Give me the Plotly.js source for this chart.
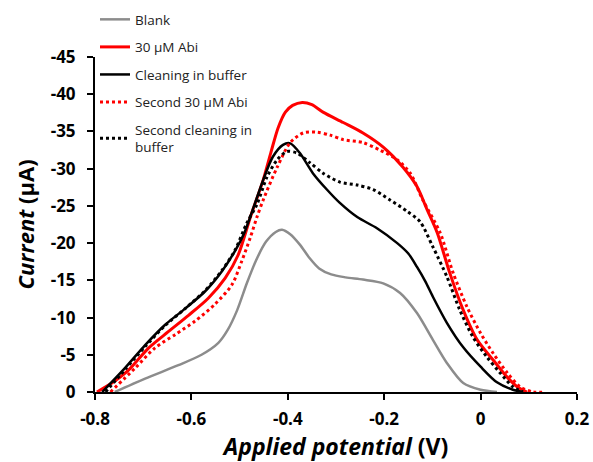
<!DOCTYPE html>
<html>
<head>
<meta charset="utf-8">
<script src="https://cdn.plot.ly/plotly-3.0.1.min.js"></script>
<style>html,body{margin:0;padding:0;background:#fff;}#chart{width:593px;height:462px;}</style>
</head>
<body>
<div id="chart"></div>
<script>
// Series names
const seriesNames = ["Blank", "30 µM Abi", "Cleaning in buffer", "Second 30 µM Abi", "Second cleaning in<br>buffer"];

// Blank
const blankX = [-0.759, -0.696, -0.627, -0.579, -0.544, -0.525, -0.505, -0.485, -0.465, -0.445, -0.425, -0.412, -0.395, -0.375, -0.355, -0.335, -0.310, -0.280, -0.244, -0.202, -0.167, -0.132, -0.099, -0.070, -0.036, 0.000, 0.034];
const blankY = [0, -1.8, -3.6, -5.0, -6.6, -8.3, -11.0, -14.6, -17.8, -20.2, -21.5, -21.8, -21.2, -19.8, -18.0, -16.6, -15.8, -15.4, -15.1, -14.6, -13.3, -10.6, -7.0, -3.9, -1.2, -0.3, 0];

// 30 µM Abi
const abiX = [-0.796, -0.765, -0.731, -0.689, -0.648, -0.606, -0.565, -0.530, -0.503, -0.478, -0.451, -0.435, -0.420, -0.405, -0.390, -0.370, -0.350, -0.327, -0.285, -0.244, -0.202, -0.161, -0.132, -0.111, -0.090, -0.064, -0.036, -0.007, 0.026, 0.055, 0.076, 0.096];
const abiY = [0, -1.2, -2.9, -5.9, -8.1, -10.3, -12.6, -15.3, -18.4, -23.4, -28.5, -32.2, -35.5, -37.6, -38.5, -38.9, -38.6, -37.6, -36.2, -34.8, -32.9, -30.2, -27.6, -24.5, -21.4, -16.0, -11.0, -7.0, -4.3, -2.0, -0.7, 0];

// Cleaning in buffer
const cleanX = [-0.785, -0.738, -0.696, -0.655, -0.613, -0.572, -0.537, -0.510, -0.490, -0.470, -0.451, -0.431, -0.410, -0.395, -0.375, -0.348, -0.319, -0.292, -0.256, -0.215, -0.173, -0.150, -0.132, -0.115, -0.099, -0.070, -0.036, 0.000, 0.034, 0.067, 0.088];
const cleanY = [0, -3.2, -6.3, -9.0, -11.2, -13.5, -16.2, -18.9, -21.4, -25.0, -28.5, -31.6, -33.2, -33.4, -32.1, -29.4, -27.2, -25.4, -23.5, -22.0, -20.0, -18.6, -16.8, -14.9, -12.8, -9.3, -6.0, -3.4, -1.3, -0.3, 0];

// Second 30 µM Abi
const abi2X = [-0.768, -0.717, -0.676, -0.634, -0.593, -0.551, -0.516, -0.496, -0.478, -0.464, -0.451, -0.422, -0.395, -0.368, -0.339, -0.312, -0.285, -0.244, -0.209, -0.173, -0.146, -0.120, -0.084, -0.057, -0.028, 0.000, 0.026, 0.055, 0.082, 0.109, 0.134];
const abi2Y = [0, -3.2, -5.9, -7.7, -9.5, -11.8, -14.4, -17.5, -20.7, -23.5, -25.8, -30.2, -33.5, -34.8, -34.9, -34.5, -33.9, -33.5, -32.5, -31.2, -29.4, -25.8, -21.4, -16.0, -11.4, -7.9, -5.2, -2.6, -0.7, 0, 0];

// Second cleaning in buffer
const clean2X = [-0.778, -0.738, -0.696, -0.655, -0.613, -0.572, -0.537, -0.510, -0.485, -0.464, -0.443, -0.422, -0.402, -0.381, -0.354, -0.327, -0.292, -0.256, -0.223, -0.188, -0.153, -0.126, -0.099, -0.070, -0.043, -0.016, 0.013, 0.040, 0.067, 0.088];
const clean2Y = [0, -3.0, -6.1, -8.9, -11.2, -13.6, -16.3, -19.0, -22.7, -25.2, -28.9, -31.2, -32.3, -32.1, -30.8, -29.4, -28.2, -27.8, -27.2, -25.8, -24.3, -22.9, -19.5, -15.5, -11.0, -7.4, -4.7, -2.6, -0.7, 0];

// Axis ticks
const xTickVals = [-0.8, -0.6, -0.4, -0.2, 0, 0.2];
const xTickText = ["-0.8", "-0.6", "-0.4", "-0.2", "0", "0.2"];
const yTickVals = [0, -5, -10, -15, -20, -25, -30, -35, -40, -45];
const yTickText = ["0", "-5", "-10", "-15", "-20", "-25", "-30", "-35", "-40", "-45"];

const FONT = "Open Sans, Noto Sans, sans-serif";

const traces = [
  {x: blankX, y: blankY, name: seriesNames[0], line: {color: "#8c8c8c", width: 2.5, shape: "spline", smoothing: 0.8}},
  {x: abiX, y: abiY, name: seriesNames[1], line: {color: "#ff0000", width: 3, shape: "spline", smoothing: 0.8}},
  {x: cleanX, y: cleanY, name: seriesNames[2], line: {color: "#000000", width: 2.5, shape: "spline", smoothing: 0.8}},
  {x: abi2X, y: abi2Y, name: seriesNames[3], line: {color: "#ff0000", width: 3, dash: "dot", shape: "spline", smoothing: 0.8}},
  {x: clean2X, y: clean2Y, name: seriesNames[4], line: {color: "#000000", width: 3, dash: "dot", shape: "spline", smoothing: 0.8}}
].map((t, i) => Object.assign({type: "scatter", mode: "lines", legendgroup: "g" + i, hoverinfo: "skip"}, t));

const layout = {
  width: 593, height: 462,
  margin: {l: 95, r: 16, t: 57, b: 70, autoexpand: false},
  paper_bgcolor: "#fff", plot_bgcolor: "#fff",
  font: {family: FONT, color: "#000"},
  showlegend: true,
  legend: {
    x: 0.0, y: 1.158, xanchor: "left", yanchor: "top",
    bgcolor: "rgba(0,0,0,0)",
    font: {family: FONT, size: 13.5, color: "#222"},
    tracegroupgap: 7,
    itemwidth: 30
  },
  xaxis: {
    range: [-0.8, 0.2], tickmode: "array", tickvals: xTickVals, ticktext: xTickText,
    showline: true, linecolor: "#000", linewidth: 2, mirror: false,
    ticks: "outside", ticklen: 6, tickwidth: 2, tickcolor: "#000",
    ticklabelstandoff: 5,
    showgrid: false, zeroline: false,
    tickfont: {family: FONT, size: 17, color: "#000", weight: "bold"},
    title: {text: "<b><i>Applied potential</i> (V)</b>", font: {family: FONT, size: 23, color: "#000"}, standoff: 2}
  },
  yaxis: {
    range: [0, -45], tickmode: "array", tickvals: yTickVals, ticktext: yTickText,
    showline: true, linecolor: "#000", linewidth: 2, mirror: false,
    ticks: "outside", ticklen: 6, tickwidth: 2, tickcolor: "#000",
    ticklabelstandoff: 8,
    showgrid: false, zeroline: false,
    tickfont: {family: FONT, size: 17, color: "#000", weight: "bold"},
    title: {text: "<b><i>Current</i> (µA)</b>", font: {family: FONT, size: 22, color: "#000"}, standoff: 10}
  }
};

Plotly.newPlot("chart", traces, layout, {displayModeBar: false, staticPlot: true});
</script>
</body>
</html>
